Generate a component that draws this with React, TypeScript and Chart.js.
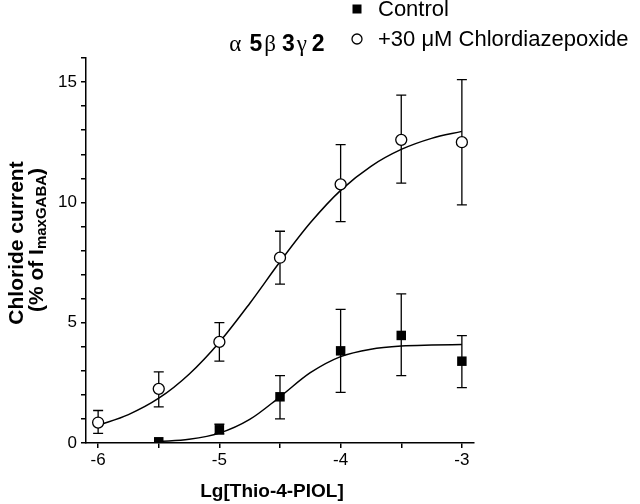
import React, { useEffect, useRef } from "react";
import { Chart, registerables } from "chart.js";

Chart.register(...registerables);

// ---- data ----
const cdzDoses = [-6, -5.5, -5, -4.5, -4, -3.5, -3];
const cdzMean = [0.85, 2.25, 4.2, 7.7, 10.75, 12.6, 12.5];
const cdzLow = [0.4, 1.5, 3.4, 6.6, 9.2, 10.8, 9.9];
const cdzHigh = [1.35, 2.96, 5.0, 8.8, 12.4, 14.46, 15.1];

const controlDoses = [-5.5, -5, -4.5, -4, -3.5, -3];
const controlMean = [0.05, 0.55, 1.92, 3.83, 4.47, 3.4];
const controlLow = [0.05, 0.38, 1.0, 2.1, 2.8, 2.3];
const controlHigh = [0.05, 0.78, 2.8, 5.55, 6.2, 4.46];

// fitted curves
const cdzFitX = [-6, -5.75, -5.5, -5.25, -5, -4.75, -4.5, -4.25, -4, -3.75, -3.5, -3.25, -3];
const cdzFitY = [0.73, 1.18, 1.86, 2.86, 4.19, 5.8, 7.53, 9.15, 10.5, 11.5, 12.2, 12.66, 12.95];
const controlFitX = [-5.5, -5.25, -5, -4.75, -4.5, -4.25, -4, -3.75, -3.5, -3.25, -3];
const controlFitY = [0.057, 0.155, 0.41, 0.98, 1.92, 2.92, 3.59, 3.9, 4.03, 4.07, 4.09];

const xTicks = [-6, -5.5, -5, -4.5, -4, -3.5, -3];
const xLabelTicks = [-6, -5, -4, -3];
const yTicks = [0, 1, 2, 3, 4, 5, 6, 7, 8, 9, 10, 11, 12, 13, 14, 15, 16];
const yLabelTicks = [0, 5, 10, 15];

const legendLabels = ["Control", "+30 \u03bcM Chlordiazepoxide"];
const xTitle = "Lg[Thio-4-PIOL]";
const yTitle1 = "Chloride current";

const SANS = '"Liberation Sans", Arial, sans-serif';
const SERIF = '"Liberation Serif", "DejaVu Serif", serif';

const pairs = (xs: number[], ys: number[]) => xs.map((x, i) => ({ x, y: ys[i] }));

const customPlugin = {
  id: "custom",
  beforeDatasetsDraw(chart: any) {
    const { ctx, scales } = chart;
    const xs = scales.x;
    const ys = scales.y;
    ctx.save();
    ctx.strokeStyle = "#000";
    ctx.lineWidth = 1.3;
    const bars = (xv: number[], lo: number[], hi: number[]) => {
      for (let i = 0; i < xv.length; i++) {
        const px = xs.getPixelForValue(xv[i]);
        const pl = ys.getPixelForValue(lo[i]);
        const ph = ys.getPixelForValue(hi[i]);
        if (Math.abs(pl - ph) < 1) continue;
        ctx.beginPath();
        ctx.moveTo(px, pl);
        ctx.lineTo(px, ph);
        ctx.moveTo(px - 5, pl);
        ctx.lineTo(px + 5, pl);
        ctx.moveTo(px - 5, ph);
        ctx.lineTo(px + 5, ph);
        ctx.stroke();
      }
    };
    bars(cdzDoses, cdzLow, cdzHigh);
    bars(controlDoses, controlLow, controlHigh);
    ctx.restore();
  },
  afterDraw(chart: any) {
    const { ctx } = chart;
    ctx.save();
    ctx.fillStyle = "#000";
    ctx.strokeStyle = "#000";

    // title  α5β3γ2
    const segs = [
      { t: "\u03b1", f: `23px ${SERIF}`, gap: 8 },
      { t: "5", f: `bold 23px ${SANS}`, gap: 2 },
      { t: "\u03b2", f: `23px ${SERIF}`, gap: 6 },
      { t: "3", f: `bold 23px ${SANS}`, gap: 2 },
      { t: "\u03b3", f: `23px ${SERIF}`, gap: 5 },
      { t: "2", f: `bold 23px ${SANS}`, gap: 0 },
    ];
    let total = 0;
    for (const s of segs) {
      ctx.font = s.f;
      total += ctx.measureText(s.t).width + s.gap;
    }
    let tx = 277 - total / 2;
    ctx.textBaseline = "middle";
    ctx.textAlign = "left";
    for (const s of segs) {
      ctx.font = s.f;
      ctx.fillText(s.t, tx, 45);
      tx += ctx.measureText(s.t).width + s.gap;
    }

    // legend
    ctx.font = `22px ${SANS}`;
    ctx.fillRect(357 - 4.5, 9 - 4.5, 9, 9);
    ctx.fillText(legendLabels[0], 378, 10);
    ctx.lineWidth = 1.3;
    ctx.beginPath();
    ctx.arc(357, 39, 5, 0, Math.PI * 2);
    ctx.stroke();
    ctx.fillText(legendLabels[1], 378, 40);

    // x title
    ctx.font = `bold 19px ${SANS}`;
    ctx.textAlign = "center";
    ctx.fillText(xTitle, 272, 492);

    // y title line 1
    ctx.save();
    ctx.translate(23, 243);
    ctx.rotate(-Math.PI / 2);
    ctx.textAlign = "center";
    ctx.textBaseline = "alphabetic";
    ctx.font = `bold 21px ${SANS}`;
    ctx.fillText(yTitle1, 0, 0);
    ctx.restore();

    // y title line 2 with subscript
    ctx.save();
    ctx.translate(43, 240);
    ctx.rotate(-Math.PI / 2);
    ctx.textAlign = "left";
    ctx.textBaseline = "alphabetic";
    const mainF = `bold 21px ${SANS}`;
    const subF = `bold 15px ${SANS}`;
    ctx.font = mainF;
    const w1 = ctx.measureText("(% of I").width;
    const w3 = ctx.measureText(")").width;
    ctx.font = subF;
    const w2 = ctx.measureText("maxGABA").width;
    let lx = -(w1 + w2 + w3) / 2;
    ctx.font = mainF;
    ctx.fillText("(% of I", lx, 0);
    lx += w1;
    ctx.font = subF;
    ctx.fillText("maxGABA", lx, 3);
    lx += w2;
    ctx.font = mainF;
    ctx.fillText(")", lx, 0);
    ctx.restore();

    ctx.restore();
  },
};

export default function App() {
  const ref = useRef<HTMLCanvasElement | null>(null);
  useEffect(() => {
    document.body.style.margin = "0";
    const canvas = ref.current;
    if (!canvas) return;
    Chart.defaults.font.family = SANS;
    const chart = new Chart(canvas, {
      type: "scatter",
      data: {
        datasets: [
          {
            label: legendLabels[0],
            data: pairs(controlDoses, controlMean),
            pointStyle: "rect",
            pointRadius: 6.7,
            backgroundColor: "#000",
            borderColor: "#000",
            borderWidth: 0,
            showLine: false,
            order: 0,
          } as any,
          {
            label: legendLabels[1],
            data: pairs(cdzDoses, cdzMean),
            pointStyle: "circle",
            pointRadius: 5.5,
            backgroundColor: "#fff",
            borderColor: "#000",
            borderWidth: 1.3,
            showLine: false,
            order: 0,
          } as any,
          {
            label: "control fit",
            data: pairs(controlFitX, controlFitY),
            showLine: true,
            pointRadius: 0,
            borderColor: "#000",
            borderWidth: 1.5,
            cubicInterpolationMode: "monotone",
            fill: false,
            order: 1,
          } as any,
          {
            label: "cdz fit",
            data: pairs(cdzFitX, cdzFitY),
            showLine: true,
            pointRadius: 0,
            borderColor: "#000",
            borderWidth: 1.5,
            cubicInterpolationMode: "monotone",
            fill: false,
            order: 1,
          } as any,
        ],
      },
      options: {
        animation: false,
        responsive: false,
        devicePixelRatio: 1,
        layout: { padding: { top: 58, right: 166, bottom: 0, left: 0 } },
        plugins: {
          legend: { display: false },
          tooltip: { enabled: false },
          title: { display: false },
        },
        scales: {
          x: {
            type: "linear",
            min: -6.1,
            max: -2.9,
            afterBuildTicks: (s: any) => {
              s.ticks = xTicks.map((v) => ({ value: v }));
            },
            afterFit: (s: any) => {
              s.height = 61;
            },
            ticks: {
              autoSkip: false,
              maxRotation: 0,
              padding: 2,
              color: "#000",
              font: { family: SANS, size: 17 },
              callback: (v: any) => (xLabelTicks.includes(Number(v)) ? String(v) : ""),
            },
            grid: { drawOnChartArea: false, drawTicks: true, tickLength: 5, color: "#000", lineWidth: 1.5 },
            border: { display: true, color: "#000", width: 1.5 },
          },
          y: {
            type: "linear",
            min: 0,
            max: 16,
            afterBuildTicks: (s: any) => {
              s.ticks = yTicks.map((v) => ({ value: v }));
            },
            afterFit: (s: any) => {
              s.width = 86;
            },
            ticks: {
              autoSkip: false,
              padding: 4,
              color: "#000",
              font: { family: SANS, size: 17 },
              callback: (v: any) => (yLabelTicks.includes(Number(v)) ? String(v) : ""),
            },
            grid: { drawOnChartArea: false, drawTicks: true, tickLength: 5, color: "#000", lineWidth: 1.5 },
            border: { display: true, color: "#000", width: 1.5 },
          },
        },
      } as any,
      plugins: [customPlugin],
    });
    return () => chart.destroy();
  }, []);
  return (
    <div style={{ position: "absolute", left: 0, top: 0, width: 640, height: 504, background: "#fff" }}>
      <canvas ref={ref} width={640} height={504} style={{ display: "block" }} />
    </div>
  );
}
